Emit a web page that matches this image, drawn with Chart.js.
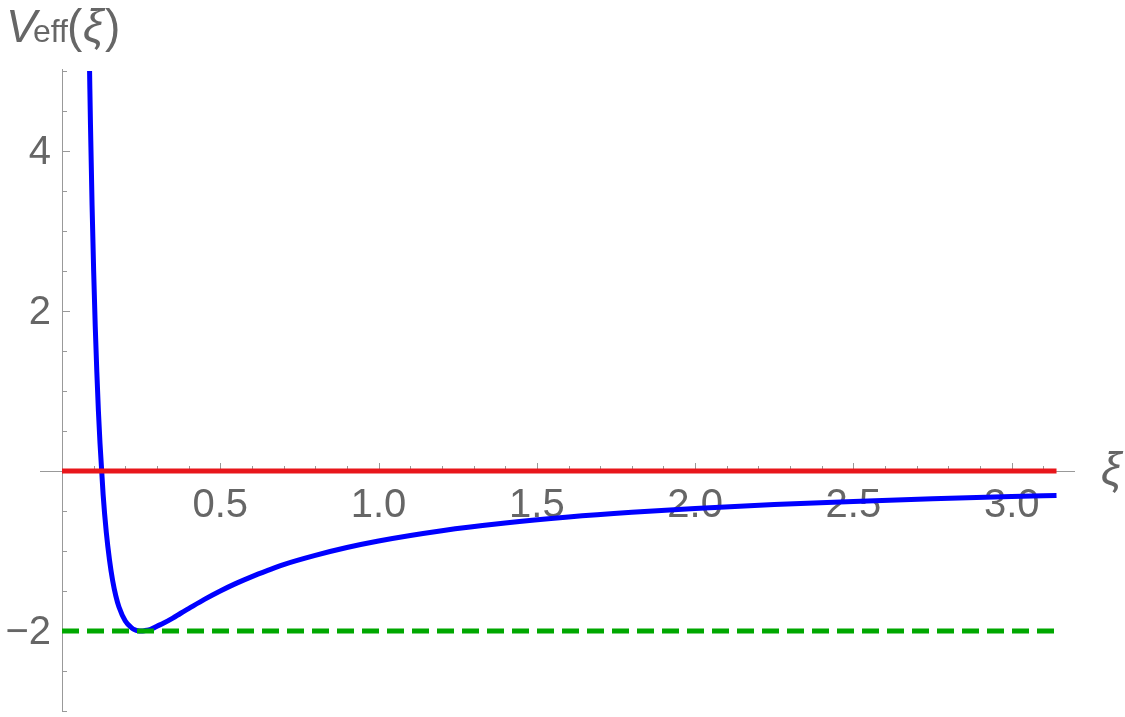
<!DOCTYPE html>
<html>
<head>
<meta charset="utf-8">
<script src="https://cdn.jsdelivr.net/npm/chart.js@4.4.0/dist/chart.umd.min.js"></script>
<style>
  html, body { margin: 0; padding: 0; background: #fff; }
  #wrap { width: 1125px; height: 717px; position: relative; }
</style>
</head>
<body>
<div id="wrap"><canvas id="chart"></canvas></div>
<script>
// values
const xi   = [0.085, 0.088, 0.09, 0.095, 0.10, 0.105, 0.11, 0.115, 0.12, 0.13, 0.14, 0.15, 0.16, 0.17, 0.18, 0.20, 0.22, 0.23, 0.24, 0.25, 0.26, 0.27, 0.28, 0.30, 0.32, 0.35, 0.375, 0.40, 0.45, 0.50, 0.55, 0.60, 0.65, 0.70, 0.80, 0.90, 1.00, 1.20, 1.40, 1.60, 1.80, 2.00, 2.25, 2.50, 2.75, 3.00, 3.1416];
const veff = [5.54, 4.78, 4.32, 3.32, 2.50, 1.81, 1.24, 0.75, 0.35, -0.30, -0.77, -1.11, -1.37, -1.56, -1.70, -1.875, -1.96, -1.985, -1.997, -2.00, -1.997, -1.989, -1.98, -1.94, -1.904, -1.84, -1.778, -1.72, -1.605, -1.50, -1.405, -1.32, -1.243, -1.17, -1.055, -0.957, -0.875, -0.747, -0.651, -0.576, -0.517, -0.469, -0.420, -0.380, -0.347, -0.319, -0.306];
const xRange = [0, 3.1416];   // red zero line and green dashed line span
const zeroLevel = 0;
const minLevel = -2;

const xTickLabels = [0.5, 1.0, 1.5, 2.0, 2.5, 3.0];
const yTickLabels = [4, 2, -2];

const xMin = 0, xMax = 3.2, yMin = -3, yMax = 5;

// axes, ticks and labels drawn Mathematica-style at the origin, under the curves
const axesPlugin = {
  id: 'axes',
  beforeDatasetsDraw(chart) {
    const ctx = chart.ctx;
    const xs = chart.scales.x, ys = chart.scales.y;
    const x0 = xs.getPixelForValue(0), y0 = ys.getPixelForValue(0);
    ctx.save();
    ctx.strokeStyle = '#999';
    ctx.lineWidth = 1;
    ctx.beginPath();
    ctx.moveTo(40, Math.round(y0) + 0.5); ctx.lineTo(xs.getPixelForValue(xMax), Math.round(y0) + 0.5);
    ctx.moveTo(x0 + 0.5, ys.getPixelForValue(yMax) - 2); ctx.lineTo(x0 + 0.5, ys.getPixelForValue(yMin));
    // x ticks
    for (let i = 1; i <= 31; i++) {
      const v = i / 10;
      const px = Math.round(xs.getPixelForValue(v)) + 0.5;
      const len = i % 5 === 0 ? 8 : 5;
      ctx.moveTo(px, y0); ctx.lineTo(px, y0 - len);
    }
    // y ticks
    for (let i = -6; i <= 10; i++) {
      if (i === 0) continue;
      const v = i / 2;
      const py = Math.round(ys.getPixelForValue(v)) + 0.5;
      const len = i % 4 === 0 ? 8 : 5;
      ctx.moveTo(x0, py); ctx.lineTo(x0 + len, py);
    }
    ctx.stroke();

    ctx.fillStyle = '#666';
    ctx.font = '40px "Liberation Sans", Arial, sans-serif';
    ctx.textAlign = 'center';
    ctx.textBaseline = 'middle';
    xTickLabels.forEach(v => ctx.fillText(v.toFixed(1), xs.getPixelForValue(v), y0 + 35));
    ctx.textAlign = 'right';
    yTickLabels.forEach(v => ctx.fillText(v < 0 ? '\u2212' + Math.abs(v) : String(v), 51, ys.getPixelForValue(v) + 2));

    // axis labels
    ctx.textAlign = 'left';
    ctx.textBaseline = 'alphabetic';
    ctx.font = 'italic 46px "Liberation Sans", Arial, sans-serif';
    ctx.fillText('V', 6, 42);
    ctx.font = '32px "Liberation Sans", Arial, sans-serif';
    ctx.fillText('eff', 33, 42);
    ctx.font = '46px "Liberation Sans", Arial, sans-serif';
    ctx.fillText('(', 67, 42);
    ctx.font = 'italic 46px "Liberation Sans", Arial, sans-serif';
    ctx.fillText('\u03BE', 83, 42);
    ctx.font = '46px "Liberation Sans", Arial, sans-serif';
    ctx.fillText(')', 105, 42);
    ctx.font = 'italic 46px "Liberation Sans", Arial, sans-serif';
    ctx.fillText('\u03BE', 1101, 485);
    ctx.restore();
  }
};

new Chart(document.getElementById('chart'), {
  type: 'scatter',
  data: {
    datasets: [
      {
        label: 'zero',
        data: xRange.map(x => ({ x, y: zeroLevel })),
        showLine: true, borderColor: '#e8161b', borderWidth: 5, pointRadius: 0
      },
      {
        label: 'min',
        data: xRange.map(x => ({ x, y: minLevel })),
        showLine: true, borderColor: '#00a800', borderWidth: 5, pointRadius: 0,
        borderDash: [17, 8]
      },
      {
        label: 'Veff',
        data: xi.map((x, i) => ({ x, y: veff[i] })),
        showLine: true, borderColor: '#0000ff', borderWidth: 5, pointRadius: 0,
        cubicInterpolationMode: 'monotone'
      }
    ]
  },
  options: {
    responsive: true,
    maintainAspectRatio: false,
    animation: false,
    layout: { padding: { left: 62, right: 50, top: 71, bottom: 6 } },
    plugins: { legend: { display: false }, tooltip: { enabled: false } },
    scales: {
      x: { type: 'linear', min: xMin, max: xMax, display: false },
      y: { type: 'linear', min: yMin, max: yMax, display: false }
    }
  },
  plugins: [axesPlugin]
});
</script>
</body>
</html>
